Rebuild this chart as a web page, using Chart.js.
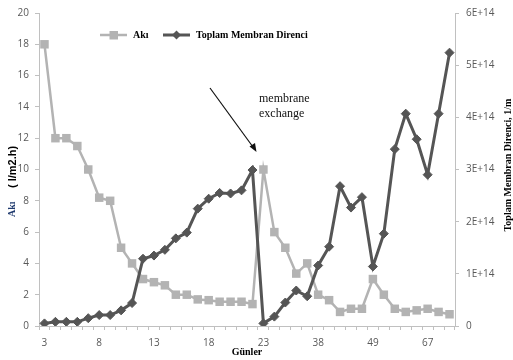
<!DOCTYPE html>
<html>
<head>
<meta charset="utf-8">
<script src="https://cdn.jsdelivr.net/npm/chart.js@4"></script>
<style>
    body { margin: 0; background: #fff; }
</style>
</head>
<body>
<canvas id="grafik" width="513" height="360"></canvas>
<script>
// gunler (x ekseni), sadece her 5. etiket gosteriliyor
var gunler = ["3", "4", "5", "6", "7", "8", "9", "10", "11", "12",
    "13", "14", "15", "16", "17", "18", "19", "20", "21", "22",
    "23", "", "", "", "", "38", "", "", "", "",
    "49", "", "", "", "", "67", "", ""];

// aki, l/m2.h (sol eksen)
var aki = [18, 12, 12, 11.5, 10, 8.2, 8, 5, 4, 3,
    2.8, 2.6, 2, 2, 1.7, 1.65, 1.55, 1.55, 1.55, 1.4,
    10, 6, 5, 3.35, 4, 2, 1.65, 0.9, 1.1, 1.1,
    3, 2, 1.1, 0.9, 1, 1.1, 0.9, 0.75];

// toplam membran direnci, 1E+14 1/m biriminde (sag eksen)
var direncE14 = [0.05, 0.08, 0.08, 0.08, 0.15, 0.21, 0.21, 0.30, 0.44, 1.29,
    1.35, 1.46, 1.68, 1.79, 2.25, 2.44, 2.55, 2.54, 2.60, 2.99,
    0.05, 0.18, 0.45, 0.68, 0.57, 1.16, 1.52, 2.68, 2.27, 2.47,
    1.14, 1.77, 3.39, 4.07, 3.58, 2.90, 4.07, 5.24];

var sagEtiketler = ["0", "1E+14", "2E+14", "3E+14", "4E+14", "5E+14", "6E+14"];

var renkAki = "#b3b3b3";
var renkDirenc = "#555555";
var eksenRengi = "#c0c0c0";
var yaziRengi = "#595959";

// yazilar, ok ve lejand (Excel tarzi)
var yazilar = {
    id: "yazilar",
    afterDraw: function (chart) {
        var ctx = chart.ctx;
        ctx.save();

        // lejand
        ctx.lineWidth = 2.5;
        ctx.strokeStyle = renkAki;
        ctx.beginPath(); ctx.moveTo(100, 35); ctx.lineTo(127, 35); ctx.stroke();
        ctx.fillStyle = renkAki;
        ctx.fillRect(109.5, 31, 8.5, 8.5);
        ctx.strokeStyle = renkDirenc;
        ctx.lineWidth = 3;
        ctx.beginPath(); ctx.moveTo(163, 35); ctx.lineTo(190, 35); ctx.stroke();
        ctx.fillStyle = renkDirenc;
        ctx.beginPath();
        ctx.moveTo(176.5, 30.5); ctx.lineTo(181, 35); ctx.lineTo(176.5, 39.5); ctx.lineTo(172, 35);
        ctx.closePath(); ctx.fill();

        ctx.fillStyle = "#000";
        ctx.font = "bold 10px 'Liberation Serif'";
        ctx.textBaseline = "middle";
        ctx.textAlign = "left";
        ctx.fillText("Akı", 133, 35);
        ctx.fillText("Toplam Membran Direnci", 196, 35);

        // membran degisimi notu
        ctx.font = "12px 'Liberation Serif'";
        ctx.fillStyle = "#111";
        ctx.fillText("membrane", 259, 99);
        ctx.fillText("exchange", 259, 114);

        ctx.strokeStyle = "#111";
        ctx.lineWidth = 1.2;
        ctx.beginPath(); ctx.moveTo(210, 88); ctx.lineTo(253, 147); ctx.stroke();
        ctx.fillStyle = "#111";
        ctx.beginPath();
        ctx.moveTo(256.5, 152); ctx.lineTo(249.5, 146.5); ctx.lineTo(255, 143); ctx.closePath();
        ctx.fill();

        // sol eksen basligi
        ctx.save();
        ctx.translate(12, 217);
        ctx.rotate(-Math.PI / 2);
        ctx.textAlign = "left";
        ctx.font = "bold 10px 'Liberation Serif'";
        ctx.fillStyle = "#1f3a6e";
        ctx.fillText("Akı", 0, 0);
        ctx.font = "bold 11px 'Liberation Sans'";
        ctx.fillStyle = "#000";
        ctx.fillText("( l/m2.h)", 29, 1);
        ctx.restore();

        // sag eksen basligi
        ctx.save();
        ctx.translate(508, 165);
        ctx.rotate(-Math.PI / 2);
        ctx.textAlign = "center";
        ctx.font = "bold 10px 'Liberation Serif'";
        ctx.fillStyle = "#000";
        ctx.fillText("Toplam Membran Direnci, 1/m", 0, 0);
        ctx.restore();

        ctx.restore();
    }
};

var ctx = document.getElementById("grafik");
var grafik = new Chart(ctx, {
    type: "line",
    data: {
        labels: gunler,
        datasets: [{
            label: "Toplam Membran Direnci",
            data: direncE14,
            yAxisID: "y1",
            order: 0,
            borderColor: renkDirenc,
            backgroundColor: renkDirenc,
            borderWidth: 3,
            pointStyle: "rectRot",
            pointRadius: 4.5,
            pointBorderWidth: 1,
            tension: 0
        }, {
            label: "Akı",
            data: aki,
            yAxisID: "y",
            order: 1,
            borderColor: renkAki,
            backgroundColor: renkAki,
            borderWidth: 2.5,
            pointStyle: "rect",
            pointRadius: 6,
            pointBorderWidth: 0,
            tension: 0
        }]
    },
    options: {
        responsive: false,
        animation: false,
        layout: { padding: { top: 10 } },
        plugins: {
            legend: { display: false },
            tooltip: { enabled: false }
        },
        scales: {
            x: {
                offset: true,
                grid: { offset: true, drawOnChartArea: false, tickLength: 4, color: eksenRengi },
                border: { color: eksenRengi },
                ticks: {
                    autoSkip: false,
                    maxRotation: 0,
                    padding: 7,
                    color: yaziRengi,
                    font: { family: "'Open Sans'", size: 10 },
                    callback: function (v, i) { return i % 5 === 0 ? gunler[i] : ""; }
                },
                title: {
                    display: true,
                    text: "Günler",
                    color: "#000",
                    font: { family: "'Liberation Serif'", size: 10, weight: "bold" },
                    padding: { top: 0, bottom: 2 }
                },
                afterFit: function (s) { s.height = 34; }
            },
            y: {
                position: "left",
                min: 0,
                max: 20,
                ticks: {
                    stepSize: 2,
                    padding: 6,
                    color: yaziRengi,
                    font: { family: "'Open Sans'", size: 10 }
                },
                grid: { drawOnChartArea: false, tickLength: 4, color: eksenRengi },
                border: { color: eksenRengi },
                afterFit: function (s) { s.width = 39; }
            },
            y1: {
                position: "right",
                min: 0,
                max: 6,
                ticks: {
                    stepSize: 1,
                    padding: 7,
                    color: yaziRengi,
                    font: { family: "'Open Sans'", size: 10 },
                    callback: function (v, i) { return sagEtiketler[i]; }
                },
                grid: { drawOnChartArea: false, tickLength: 4, color: eksenRengi },
                border: { color: eksenRengi },
                afterFit: function (s) { s.width = 58; }
            }
        }
    },
    plugins: [yazilar]
});
</script>
</body>
</html>
